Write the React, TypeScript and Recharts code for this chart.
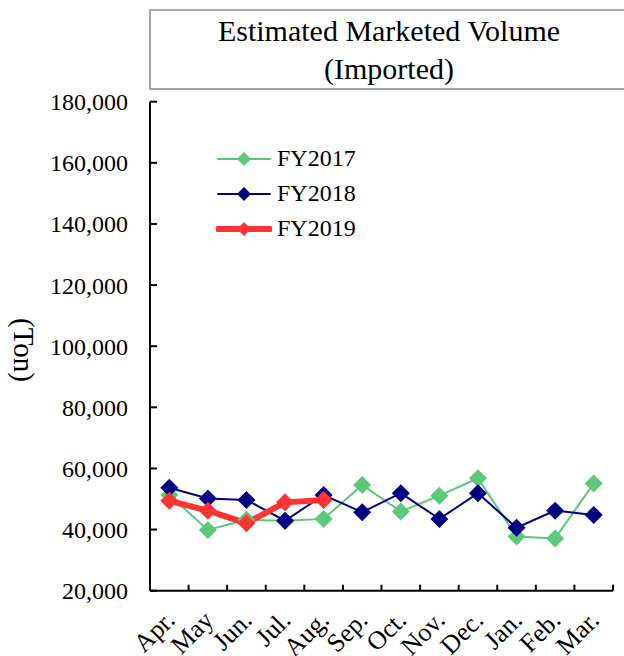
import React from 'react';
import { LineChart, Line, XAxis, YAxis, Legend } from 'recharts';

const months = ['Apr.', 'May', 'Jun.', 'Jul.', 'Aug.', 'Sep.', 'Oct.', 'Nov.', 'Dec.', 'Jan.', 'Feb.', 'Mar.'];
const fy2017 = [51300, 39900, 43200, 42900, 43500, 54600, 45900, 51100, 56800, 37700, 37100, 55100];
const fy2018 = [53700, 50200, 49700, 42900, 51300, 45700, 51900, 43500, 51900, 40600, 46200, 44800];
const fy2019 = [49400, 46200, 42100, 48900, 49700, null, null, null, null, null, null, null];
const yTicks = [20000, 40000, 60000, 80000, 100000, 120000, 140000, 160000, 180000];

const series = [
  { key: 'FY2017', name: 'FY2017', color: '#5CC97A', width: 2, values: fy2017 },
  { key: 'FY2018', name: 'FY2018', color: '#000080', width: 2, values: fy2018 },
  { key: 'FY2019', name: 'FY2019', color: '#FF3333', width: 6, values: fy2019 },
];

const data = months.map((m, i) => {
  const row: any = { month: m };
  series.forEach((s) => {
    row[s.key] = s.values[i];
  });
  return row;
});

const FONT = "'Liberation Serif', 'Times New Roman', serif";
const W = 624;
const H = 656;
const PLOT_LEFT = 150;
const PLOT_RIGHT = 613;
const PLOT_TOP = 101.7;
const PLOT_BOTTOM = 590.7;
const BAND = (PLOT_RIGHT - PLOT_LEFT) / months.length;

const diamond = (cx: number, cy: number, r: number) =>
  `M${cx},${cy - r} L${cx + r},${cy} L${cx},${cy + r} L${cx - r},${cy} Z`;

const makeDot = (color: string, r: number) => (props: any) => {
  const { cx, cy, index } = props;
  if (cx == null || cy == null || props.value == null) return <g key={`d-${index}`} />;
  return <path key={`d-${index}`} d={diamond(cx, cy, r)} fill={color} stroke="none" />;
};

const XTick = (props: any) => {
  const { x, y, payload } = props;
  const bx = x + BAND / 2;
  const tx = x + 7;
  const ty = y + 31;
  return (
    <g>
      <line x1={bx} y1={y - 6} x2={bx} y2={y} stroke="#000" strokeWidth={2} />
      <text
        x={tx}
        y={ty}
        textAnchor="end"
        fontFamily={FONT}
        fontSize={26}
        fill="#000"
        transform={`rotate(-45, ${tx}, ${ty})`}
      >
        {payload.value}
      </text>
    </g>
  );
};

const LegendContent = () => (
  <div style={{ fontFamily: FONT, fontSize: 24, color: '#000' }}>
    {series.map((s) => (
      <div key={s.key} style={{ display: 'flex', alignItems: 'center', height: 35 }}>
        <svg width={56} height={22} style={{ display: 'block' }}>
          <line x1={2} y1={11} x2={54} y2={11} stroke={s.color} strokeWidth={s.width} strokeLinecap="round" />
          <path d={diamond(28, 11, 7)} fill={s.color} />
        </svg>
        <span style={{ marginLeft: 5, lineHeight: '35px' }}>{s.name}</span>
      </div>
    ))}
  </div>
);

export default function App() {
  return (
    <div style={{ position: 'absolute', left: 0, top: 0, width: W, height: H, background: '#fff', overflow: 'hidden' }}>
      <div
        style={{
          position: 'absolute',
          left: 149,
          top: 9,
          width: 476,
          height: 76,
          border: '2px solid #a6a6a6',
          boxSizing: 'content-box',
          fontFamily: FONT,
          fontSize: 30,
          lineHeight: '38px',
          textAlign: 'center',
          color: '#000',
          paddingTop: 1,
        }}
      >
        <div>Estimated Marketed Volume</div>
        <div>(Imported)</div>
      </div>
      <div
        style={{
          position: 'absolute',
          left: 23,
          top: 350,
          transform: 'translate(-50%, -50%) rotate(90deg)',
          fontFamily: FONT,
          fontSize: 29,
          whiteSpace: 'nowrap',
          color: '#000',
        }}
      >
        (Ton)
      </div>
      <LineChart
        width={W}
        height={H}
        data={data}
        margin={{ top: PLOT_TOP, right: W - PLOT_RIGHT, bottom: 0, left: 0 }}
        style={{ position: 'absolute', left: 0, top: 0 }}
      >
        <XAxis
          dataKey="month"
          scale="band"
          interval={0}
          axisLine={{ stroke: '#000', strokeWidth: 2 }}
          tickLine={false}
          tickSize={0}
          tickMargin={0}
          tick={<XTick />}
          height={H - PLOT_BOTTOM}
        />
        <YAxis
          domain={[20000, 180000]}
          ticks={yTicks}
          interval={0}
          width={PLOT_LEFT}
          axisLine={{ stroke: '#000', strokeWidth: 2 }}
          tickLine={{ stroke: '#000', strokeWidth: 2 }}
          tickSize={-7}
          tickMargin={29}
          tickFormatter={(v: number) => v.toLocaleString('en-US')}
          tick={{ fontFamily: FONT, fontSize: 24, fill: '#000' }}
          allowDataOverflow
        />
        <Legend
          layout="vertical"
          verticalAlign="middle"
          align="center"
          content={<LegendContent />}
          wrapperStyle={{ position: 'absolute', left: 216, top: 141, width: 'auto', height: 'auto' }}
        />
        {series.map((s) => (
          <Line
            key={s.key}
            type="linear"
            dataKey={s.key}
            name={s.name}
            stroke={s.color}
            strokeWidth={s.width}
            dot={makeDot(s.color, 9)}
            activeDot={false}
            isAnimationActive={false}
            connectNulls={false}
          />
        ))}
      </LineChart>
    </div>
  );
}
